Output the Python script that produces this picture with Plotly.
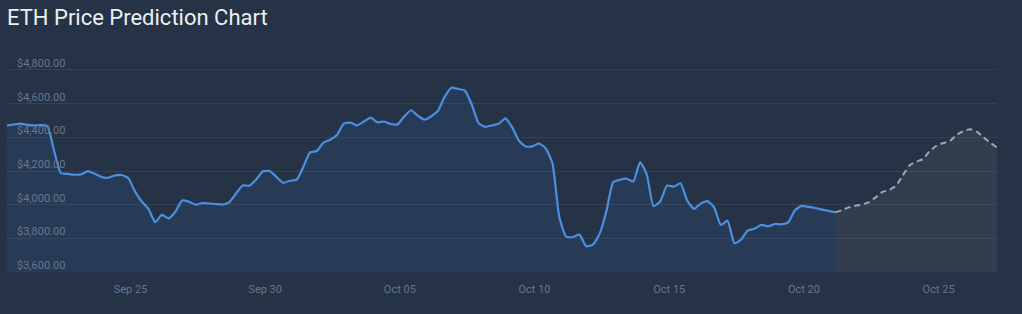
import pandas as pd
import plotly.graph_objects as go

# Historical prices, 6-hour steps starting Sep 20 10:00
hist_start = "2025-09-20 10:00"
hist_prices = [
    4470, 4476, 4481, 4474, 4471, 4473, 4467, 4319, 4187, 4183,
    4178, 4180, 4199, 4184, 4165, 4160, 4173, 4176, 4158, 4079,
    4019, 3975, 3896, 3939, 3919, 3958, 4025, 4018, 4000, 4009,
    4007, 4004, 4000, 4015, 4066, 4114, 4113, 4150, 4198, 4200,
    4165, 4130, 4142, 4148, 4224, 4310, 4319, 4369, 4386, 4414,
    4481, 4487, 4471, 4494, 4517, 4489, 4494, 4479, 4477, 4525,
    4561, 4528, 4505, 4525, 4558, 4642, 4695, 4687, 4678, 4596,
    4486, 4462, 4471, 4480, 4513, 4461, 4380, 4346, 4346, 4364,
    4334, 4244, 3928, 3811, 3808, 3822, 3753, 3762, 3828, 3961,
    4133, 4148, 4154, 4138, 4253, 4178, 3991, 4020, 4113, 4107,
    4127, 4025, 3975, 4006, 4021, 3984, 3879, 3905, 3771, 3792,
    3847, 3857, 3880, 3871, 3885, 3883, 3895, 3967, 3993, 3987,
    3980, 3971, 3963, 3954,
]

# Predicted prices, 6-hour steps starting Oct 21 04:00
pred_start = "2025-10-21 04:00"
pred_prices = [
    3954, 3968, 3984, 3994, 4002, 4015, 4044, 4076, 4087, 4113,
    4173, 4233, 4255, 4271, 4318, 4349, 4366, 4378, 4414, 4437,
    4448, 4434, 4400, 4368, 4340,
]

y_ticks = [3600, 3800, 4000, 4200, 4400, 4600, 4800]
y_tick_labels = ["$3,600.00", "$3,800.00", "$4,000.00", "$4,200.00",
                 "$4,400.00", "$4,600.00", "$4,800.00"]
title_text = "ETH Price Prediction Chart"

hist_dates = pd.date_range(hist_start, periods=len(hist_prices), freq="6h")
pred_dates = pd.date_range(pred_start, periods=len(pred_prices), freq="6h")

BG = "#263245"
GRID = "#344155"
LABEL = "#66768b"

fig = go.Figure()
fig.add_trace(go.Scatter(
    x=hist_dates, y=hist_prices, mode="lines",
    line=dict(color="#4a90e2", width=2.2, shape="spline", smoothing=0.5),
    fill="tozeroy", fillcolor="rgba(52,92,150,0.22)",
    hoverinfo="skip", showlegend=False,
))
fig.add_trace(go.Scatter(
    x=pred_dates, y=pred_prices, mode="lines",
    line=dict(color="#a3a6aa", width=2, dash="6px,4px",
              shape="spline", smoothing=0.5),
    fill="tozeroy", fillcolor="rgba(120,130,140,0.16)",
    hoverinfo="skip", showlegend=False,
))

fig.update_layout(
    width=1022, height=314,
    margin=dict(l=7, r=25, t=54, b=42),
    paper_bgcolor=BG, plot_bgcolor=BG,
    font=dict(family="Roboto", color=LABEL, size=11),
    title=dict(text=title_text, x=7 / 1022, xref="container", xanchor="left",
               y=1 - 17 / 314, yref="container", yanchor="middle",
               font=dict(family="Roboto", size=22, color="#eceff2")),
    xaxis=dict(
        range=[hist_dates[0], pred_dates[-1]],
        tick0="2025-09-25", dtick=5 * 86400000, tickformat="%b %d",
        showgrid=False, zeroline=False, showline=False,
        ticks="", ticklen=0, ticklabelstandoff=9,
        tickfont=dict(size=11, color=LABEL),
    ),
    yaxis=dict(
        range=[3600, 4895], tickvals=y_ticks, ticktext=y_tick_labels,
        ticklabelposition="inside", ticklabelstandoff=7, ticklabelshift=-7,
        showgrid=True, gridcolor=GRID, gridwidth=1,
        zeroline=False, showline=False, tickfont=dict(size=11, color=LABEL),
    ),
)

fig.write_html("out.html")
